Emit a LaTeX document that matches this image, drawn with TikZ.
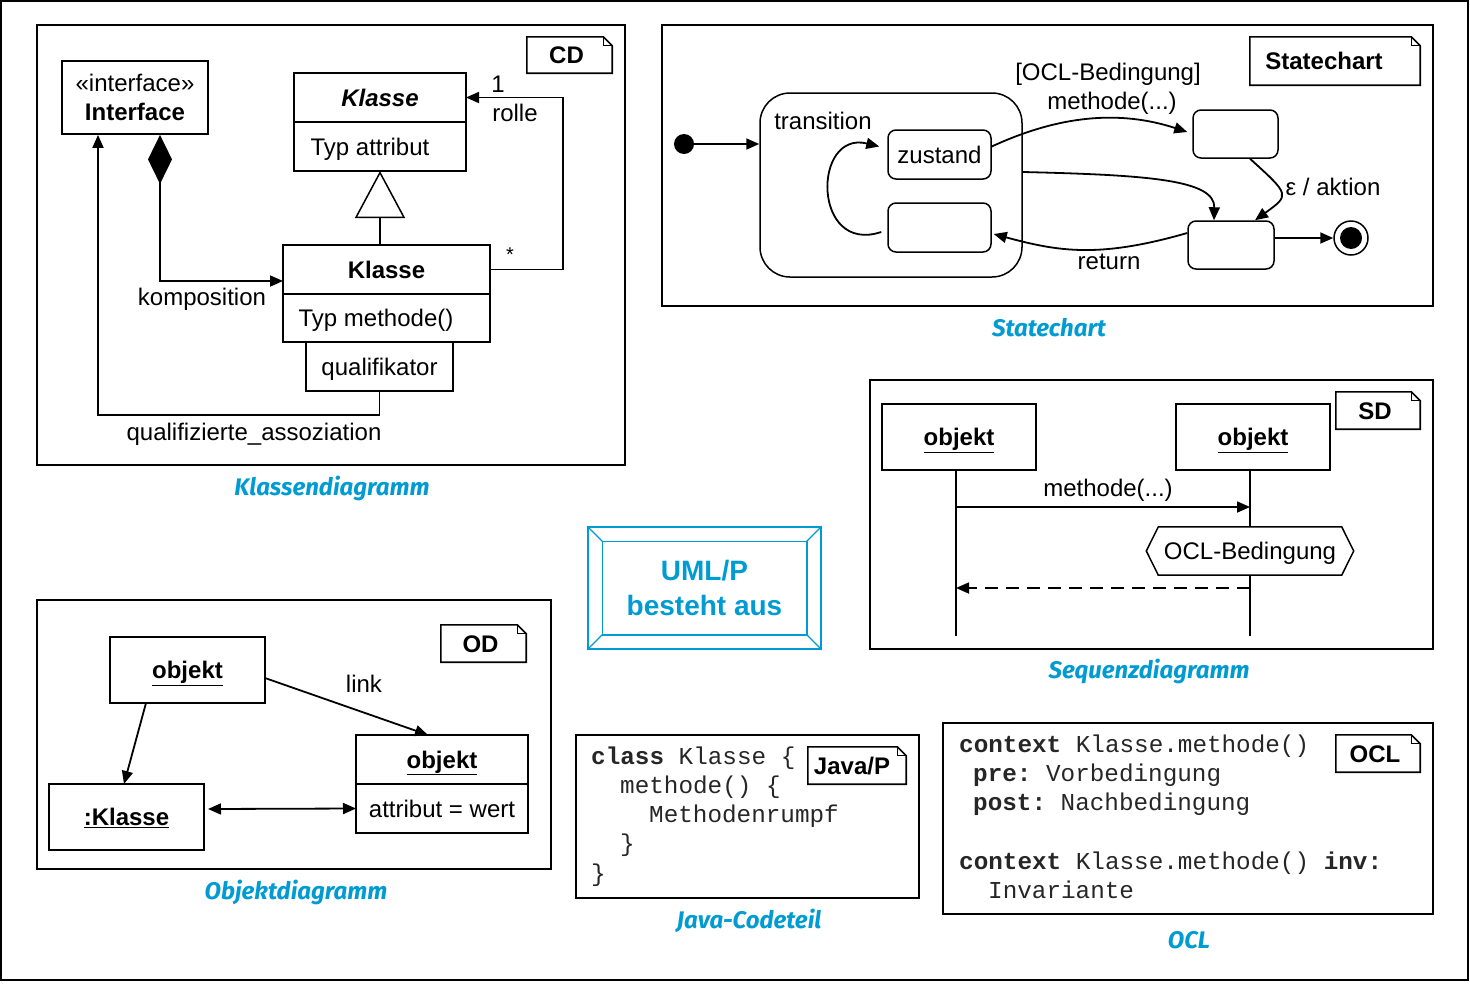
\documentclass[tikz,border=0pt]{standalone}
\usepackage{fontspec}
\setmainfont{Liberation Sans}
\setmonofont{Liberation Mono}
\newfontfamily\capfont{Fira Sans}
\usetikzlibrary{arrows.meta,calc}
\definecolor{umlblue}{RGB}{0,155,210}
\newcommand\objk{\textbf{\underline{objekt}}}
\newcommand\umlnote[6]{%
  \node[notenode, minimum width=#4pt, minimum height=#5pt] (#1) at (#2,#3) {#6};
  \draw[line width=1.6pt] (#1.north west) -- ([xshift=-9pt]#1.north east) -- ([yshift=-9pt]#1.north east) -- (#1.south east) -- (#1.south west) -- cycle;
  \draw[line width=0.8pt] ([xshift=-9pt]#1.north east) -- ([xshift=-9pt,yshift=-9pt]#1.north east) -- ([yshift=-9pt]#1.north east);
}
\begin{document}
\begin{tikzpicture}[x=1pt,y=-1pt,
  font=\fontsize{24}{29}\selectfont,
  >={Triangle[length=13pt,width=11pt]},
  panel/.style={draw, line width=1.8pt, inner sep=0pt},
  box/.style={draw, line width=1.8pt, inner sep=0pt, outer sep=0pt, text height=22pt, text depth=5pt},
  sstate/.style={draw, line width=1.5pt, inner sep=0pt, rounded corners=8pt, text height=22pt, text depth=5pt},
  conn/.style={line width=1.8pt},
  life/.style={line width=1.3pt},
  lbl/.style={inner sep=0pt, text height=22pt, text depth=5pt},
  notenode/.style={inner sep=0pt, text height=22pt, text depth=5pt, font=\bfseries\fontsize{24}{29}\selectfont},
  caption/.style={inner sep=0pt, text=umlblue, font=\capfont\bfseries\itshape\fontsize{24}{28}\selectfont},
  code/.style={anchor=base west, inner sep=0pt, font=\ttfamily\fontsize{24.3}{29}\selectfont, text=black!85}
]
\useasboundingbox (0,0) rectangle (1470,983);
\draw[line width=1.6pt] (1,1) rectangle (1468,980);

% ================= Klassendiagramm =================
\node[panel, minimum width=588pt, minimum height=440pt] (cdpanel) at (331,245) {};
\umlnote{cdnote}{569.5}{55}{85}{36}{CD\hspace*{6pt}}
\node[draw, line width=1.8pt, inner sep=0pt, minimum width=146pt, minimum height=73pt, align=center] (iface) at (135,97.5) {«interface»\\\textbf{Interface}};
\node[box, minimum width=172pt, minimum height=49pt] (kA1) at (380,97.5) {\textbf{\textit{Klasse}}};
\node[box, minimum width=172pt, minimum height=49pt] (kA2) at (380,146.5) {Typ attribut\hspace*{20pt}};
\node[box, minimum width=207pt, minimum height=49pt] (kB1) at (386.5,269.5) {\textbf{Klasse}};
\node[box, minimum width=207pt, minimum height=48pt] (kB2) at (386.5,318) {Typ methode()\hspace*{21pt}};
\node[box, minimum width=147pt, minimum height=49pt] (qual) at (379.5,366.5) {qualifikator};

\draw[conn, -{Triangle[open,length=47pt,width=50pt,line width=1.5pt]}] (kB1.north -| kA2.south) -- (kA2.south);
\draw[conn, {Diamond[length=49pt,width=24pt]}-{Triangle[length=13pt,width=11pt]}] ([xshift=25pt]iface.south) |- ([yshift=-11.5pt]kB1.west);
\draw[conn, ->] (qual.south) -- ++(0,24) -| ([xshift=-37pt]iface.south);
\draw[conn, ->] (kB1.east) -- ++(73,0) |- (kA1.east);

\node[lbl] (lkomp) at (202,297) {komposition};
\node[lbl] (lqual) at (254,432) {qualifizierte\_assoziation};
\node[lbl] (lone) at (498,84) {1};
\node[lbl] (lrolle) at (515,113) {rolle};
\node[lbl, font=\fontsize{20}{24}\selectfont] (lstar) at (510,253) {*};
\node[caption] (capcd) at (332,488) {Klassendiagramm};

% ================= Statechart =================
\node[panel, minimum width=771pt, minimum height=281pt] (scpanel) at (1047.5,165.5) {};
\umlnote{scnote}{1335}{61}{170}{48}{Statechart\hspace*{22pt}}
\node[circle, fill, minimum size=20pt, inner sep=0pt] (ini) at (684,144) {};
\node[draw, line width=1.5pt, inner sep=0pt, minimum width=262pt, minimum height=184pt, rounded corners=30pt] (super) at (891,185) {};
\node[lbl] (ltrans) at (823,121) {transition};
\node[sstate, minimum width=103pt, minimum height=49pt] (zus) at (939.5,154.5) {zustand};
\node[sstate, minimum width=103pt, minimum height=49pt] (emp) at (939.5,227.5) {};
\node[sstate, minimum width=85pt, minimum height=48pt] (stop) at (1235.5,134) {};
\node[sstate, minimum width=86pt, minimum height=48pt] (sbot) at (1231,245) {};
\node[circle, draw, line width=1.5pt, minimum size=34pt, inner sep=0pt] (fin) at (1351,238) {};
\node[circle, fill, minimum size=22pt, inner sep=0pt] (finin) at (fin) {};

\draw[conn, ->] (ini.east) -- (ini -| super.west);
\draw[conn, ->] ([yshift=8pt]zus.east) .. controls (1060,115) and (1120,110) .. ([xshift=-5pt,yshift=2pt]stop.west);
\draw[conn, ->] ([yshift=13pt]super.east) .. controls (1150,175) and (1215,180) .. ([xshift=-17pt]sbot.north);
\draw[conn, ->] ([xshift=14.5pt]stop.south) .. controls (1290,195) .. ([xshift=24pt]sbot.north);
\draw[conn, ->] ([yshift=7pt]sbot.east) -- (fin.west);
\draw[conn, ->] ([yshift=12pt]sbot.west) .. controls (1100,258) and (1060,252) .. ([xshift=2pt,yshift=-6.5pt]emp.east);
\draw[conn, ->] ([xshift=-6pt,yshift=-4.5pt]emp.west) .. controls (812,255) and (812,130) .. ([xshift=-8pt,yshift=8pt]zus.west);

\node[lbl] (locl) at (1108,72) {[OCL-Bedingung]};
\node[lbl] (lmeth) at (1112,101) {methode(...)};
\node[lbl] (leps) at (1333,187) {ε / aktion};
\node[lbl] (lret) at (1109,261) {return};
\node[caption] (capsc) at (1049,328) {Statechart};

% ================= Sequenzdiagramm =================
\node[panel, minimum width=563pt, minimum height=269pt] (sdpanel) at (1151.5,514.5) {};
\umlnote{sdnote}{1378}{410.5}{84}{37}{SD\hspace*{6pt}}
\node[box, minimum width=154pt, minimum height=66pt] (o1) at (959,437) {\objk};
\node[box, minimum width=154pt, minimum height=66pt] (o2) at (1253,437) {\objk};
\draw[life] ([xshift=-3pt]o1.south) -- ++(0,166);
\draw[life] ([xshift=-3pt]o2.south) -- ++(0,166);
\coordinate (m1) at (956,507);
\coordinate (m2) at (1250,507);
\draw[conn, ->] (m1) -- (m2);
\node[lbl] (lsdm) at (1108,488) {methode(...)};
\node[inner sep=0pt, minimum width=207pt, minimum height=48pt] (hex) at (1250,551) {};
\draw[line width=1.5pt, fill=white] (hex.west) -- ([xshift=12pt]hex.north west) -- ([xshift=-12pt]hex.north east) -- (hex.east) -- ([xshift=-12pt]hex.south east) -- ([xshift=12pt]hex.south west) -- cycle;
\node[lbl] (hextext) at (hex) {OCL-Bedingung};
\coordinate (r1) at (1250,588);
\coordinate (r2) at (956,588);
\draw[conn, dash pattern=on 13pt off 8pt, ->] (r1) -- (r2);
\node[caption] (capsd) at (1149,671) {Sequenzdiagramm};

% ================= Center =================
\node[draw=umlblue, line width=1.5pt, minimum width=233pt, minimum height=122pt, inner sep=0pt, align=center, text=umlblue, font=\bfseries\fontsize{28}{35}\selectfont] (uml) at (704.5,588) {UML/P\\besteht aus};
\draw[umlblue, line width=1.5pt] ([xshift=15pt,yshift=-15pt]uml.north west) rectangle ([xshift=-15pt,yshift=15pt]uml.south east);
\draw[umlblue, line width=1.2pt] (uml.north west) -- ++(15,15);
\draw[umlblue, line width=1.2pt] (uml.north east) -- ++(-15,15);
\draw[umlblue, line width=1.2pt] (uml.south east) -- ++(-15,-15);
\draw[umlblue, line width=1.2pt] (uml.south west) -- ++(15,-15);

% ================= Objektdiagramm =================
\node[panel, minimum width=514pt, minimum height=269pt] (odpanel) at (294,734.5) {};
\umlnote{odnote}{483.5}{643.5}{85}{37}{OD\hspace*{6pt}}
\node[box, minimum width=155pt, minimum height=66pt] (ob1) at (187.5,670) {\objk};
\node[box, minimum width=155pt, minimum height=66pt] (kl) at (126.5,817) {\textbf{\underline{:Klasse}}};
\node[box, minimum width=172pt, minimum height=49pt] (ob2a) at (442,759.5) {\objk};
\node[box, minimum width=172pt, minimum height=49pt] (ob2b) at (442,808.5) {attribut = wert};
\draw[conn, ->] ([yshift=-8pt]ob1.east) -- ([xshift=-14pt]ob2a.north);
\draw[conn, ->] ([xshift=-41.5pt]ob1.south) -- ([xshift=-2.5pt]kl.north);
\coordinate (klr) at (208,809);
\draw[conn, <->] (klr) -- (ob2b.west);
\node[lbl] (llink) at (364,684) {link};
\node[caption] (capod) at (296,892) {Objektdiagramm};

% ================= Java =================
\node[panel, minimum width=343pt, minimum height=163pt] (jvpanel) at (747.5,816.5) {};
\umlnote{jvnote}{857}{765.5}{98}{37}{Java/P\hspace*{10pt}}
\node[code] (j1) at (591,764) {\textbf{class} Klasse \{};
\node[code] (j2) at (620,793) {methode() \{};
\node[code] (j3) at (649,822) {Methodenrumpf};
\node[code] (j4) at (620,851) {\}};
\node[code] (j5) at (591,881) {\}};
\node[caption] (capjv) at (749,921) {Java-Codeteil};

% ================= OCL =================
\node[panel, minimum width=490pt, minimum height=191pt] (oclpanel) at (1188,818.5) {};
\umlnote{oclnote}{1378}{753.5}{84}{37}{OCL\hspace*{6pt}}
\node[code] (c1) at (959,752) {\textbf{context} Klasse.methode()};
\node[code] (c2) at (973,781) {\textbf{pre:} Vorbedingung};
\node[code] (c3) at (973,810) {\textbf{post:} Nachbedingung};
\node[code] (c4) at (959,869) {\textbf{context} Klasse.methode() \textbf{inv:}};
\node[code] (c5) at (988,898) {Invariante};
\node[caption] (capocl) at (1189,940) {OCL};
\end{tikzpicture}
\end{document}
